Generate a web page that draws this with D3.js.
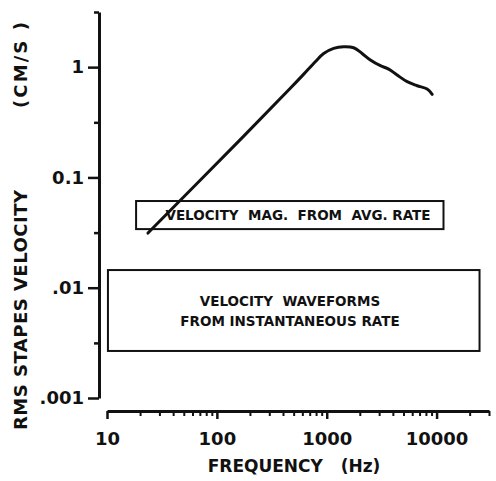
<!DOCTYPE html>
<html>
<head>
<meta charset="utf-8">
<script src="https://cdn.jsdelivr.net/npm/d3@7"></script>
<style>
  body { margin: 0; background: #fff; }
  svg { display: block; }
  text { font-family: "DejaVu Sans", sans-serif; font-weight: bold; fill: #111; white-space: pre; }
  .axis path, .axis line { stroke: #111; }
</style>
</head>
<body>
<svg id="chart" width="496" height="481"></svg>
<script>
// stapes velocity vs frequency
const frequency = [23.6, 156, 466, 615, 787, 938, 1157, 1426, 1758, 2098, 2496, 3080, 3666, 4373, 5395, 6654, 8204, 9120];
const velocity  = [0.0313, 0.21, 0.643, 0.86, 1.12, 1.33, 1.48, 1.53, 1.50, 1.33, 1.16, 1.03, 0.96, 0.848, 0.738, 0.678, 0.633, 0.567];

const xMajor = [10, 100, 1000, 10000];
const xMinor = [20, 30, 40, 50, 60, 70, 80, 90, 200, 300, 400, 500, 600, 700, 800, 900,
                2000, 3000, 4000, 5000, 6000, 7000, 8000, 9000, 20000, 30000];
const yMajor = [0.001, 0.01, 0.1, 1];
const yMajorLabels = [".001", ".01", "0.1", "1"];
const yMinor = [0.00316, 0.0316, 0.316, 3.162];

// the two boxed regions: frequency range and velocity range
const regionNames = ["mag", "wave"];
const regionFreq = [[18.4, 11560], [10.2, 24600]];
const regionVel  = [[0.034, 0.0611], [0.00267, 0.01446]];
const regionText = [["VELOCITY  MAG.  FROM  AVG. RATE"], ["VELOCITY  WAVEFORMS", "FROM INSTANTANEOUS RATE"]];

const svg = d3.select("#chart");

const x = d3.scaleLog().domain([10, 30000]).range([107, 489]);
const y = d3.scaleLog().domain([0.001, 3.162]).range([398, 12]);

const axisX = 411, axisY = 99;

// x axis
svg.append("g").attr("class", "axis")
  .attr("transform", `translate(0,${axisX})`)
  .call(d3.axisBottom(x).tickValues(xMinor).tickSize(5).tickSizeOuter(0).tickFormat(""))
  .call(g => g.selectAll("line").attr("stroke-width", 2))
  .call(g => g.select(".domain").attr("stroke-width", 3));

svg.append("g").attr("class", "axis")
  .attr("transform", `translate(0,${axisX})`)
  .call(d3.axisBottom(x).tickValues(xMajor).tickSize(8).tickPadding(13).tickFormat(d3.format("d")))
  .call(g => g.select(".domain").remove())
  .call(g => g.selectAll("line").attr("stroke-width", 2.5))
  .call(g => g.selectAll("text").attr("font-size", 18).attr("font-family", null).attr("fill", null));

// y axis
svg.append("g").attr("class", "axis")
  .attr("transform", `translate(${axisY},0)`)
  .call(d3.axisLeft(y).tickValues(yMinor).tickSize(5).tickSizeOuter(0).tickFormat(""))
  .call(g => g.selectAll("line").attr("stroke-width", 2.5))
  .call(g => g.select(".domain").attr("stroke-width", 3));

svg.append("g").attr("class", "axis")
  .attr("transform", `translate(${axisY},0)`)
  .call(d3.axisLeft(y).tickValues(yMajor).tickSize(11).tickPadding(4)
        .tickFormat((d, i) => yMajorLabels[i]))
  .call(g => g.select(".domain").remove())
  .call(g => g.selectAll("line").attr("stroke-width", 2.5))
  .call(g => g.selectAll("text").attr("font-size", 18).attr("font-family", null).attr("fill", null));

// axis titles
svg.append("text")
  .attr("x", 294).attr("y", 472)
  .attr("text-anchor", "middle")
  .attr("font-size", 17)
  .text("FREQUENCY   (Hz)");

svg.append("text")
  .attr("transform", "translate(27,430) rotate(-90)")
  .attr("font-size", 18)
  .attr("textLength", 240).attr("lengthAdjust", "spacing")
  .text("RMS STAPES VELOCITY");

svg.append("text")
  .attr("transform", "translate(27,108) rotate(-90)")
  .attr("font-size", 18)
  .attr("textLength", 86).attr("lengthAdjust", "spacing")
  .text("(CM/S )");

// regions
const regions = svg.append("g").selectAll("g")
  .data(regionNames)
  .join("g");

regions.append("rect")
  .attr("x", (d, i) => x(regionFreq[i][0]))
  .attr("y", (d, i) => y(regionVel[i][1]))
  .attr("width", (d, i) => x(regionFreq[i][1]) - x(regionFreq[i][0]))
  .attr("height", (d, i) => y(regionVel[i][0]) - y(regionVel[i][1]))
  .attr("fill", "none")
  .attr("stroke", "#111")
  .attr("stroke-width", 2);

regions.each(function(d, i) {
  const lines = regionText[i];
  const cy = (y(regionVel[i][0]) + y(regionVel[i][1])) / 2;
  const cx = i === 0 ? 298 : 290;
  d3.select(this).selectAll("text")
    .data(lines)
    .join("text")
    .attr("x", cx)
    .attr("y", (t, j) => cy + 5 + (j - (lines.length - 1) / 2) * 20)
    .attr("text-anchor", "middle")
    .attr("font-size", 13.5)
    .text(t => t);
});

// velocity curve
const line = d3.line()
  .x((d, i) => x(frequency[i]))
  .y((d, i) => y(velocity[i]))
  .curve(d3.curveCatmullRom);

svg.append("path")
  .datum(frequency)
  .attr("d", line)
  .attr("fill", "none")
  .attr("stroke", "#111")
  .attr("stroke-width", 3)
  .attr("stroke-linecap", "round");
</script>
</body>
</html>
